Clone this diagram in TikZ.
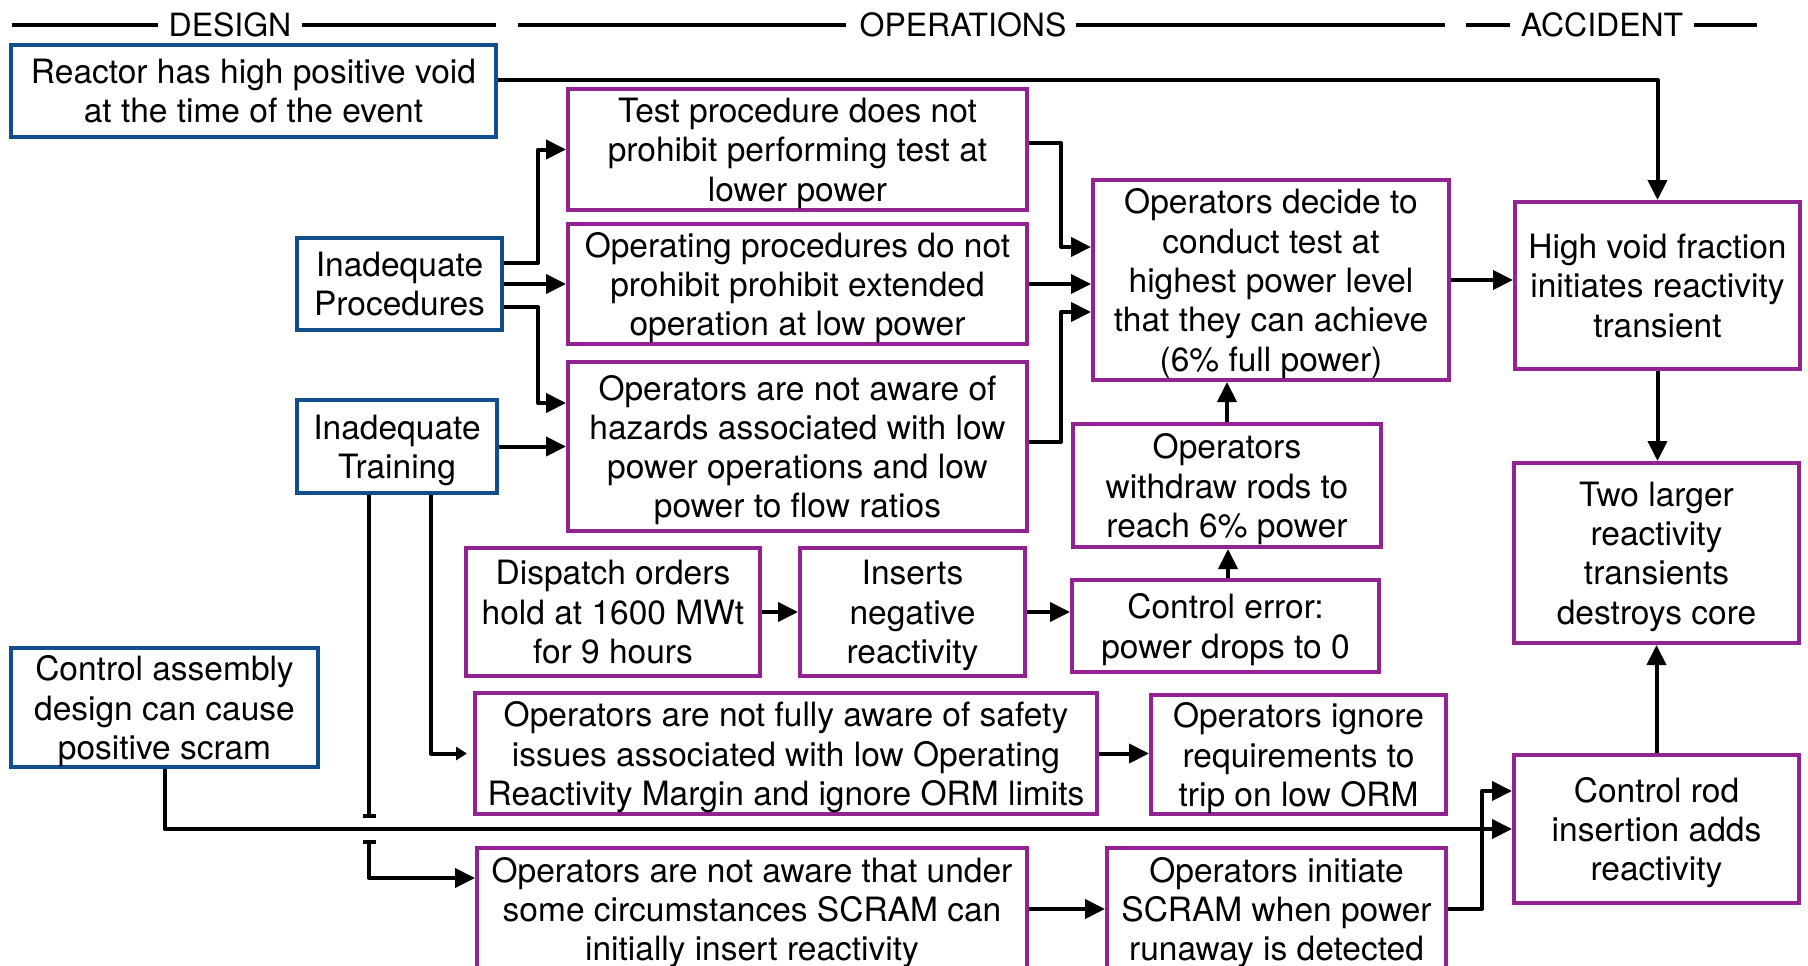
\documentclass[tikz,border=0pt]{standalone}
\usepackage{fontspec}
\setmainfont{TeX Gyre Heros}
\usetikzlibrary{arrows.meta,calc}
\definecolor{dblue}{RGB}{18,78,140}
\definecolor{dpurple}{RGB}{145,36,145}
\tikzset{
  box/.style={draw, line width=4pt, fill=white, inner sep=0pt, align=center, text depth=0pt,
    font=\fontsize{33.5}{39.3}\selectfont},
  bbox/.style={box, draw=dblue},
  pbox/.style={box, draw=dpurple},
  conn/.style={line width=4pt, line join=round},
  arr/.style={conn, -{Triangle[length=20pt,width=19pt]}},
  arrsmall/.style={conn, -{Triangle[length=11pt,width=13pt]}, shorten >=6pt},
  hdr/.style={line width=4pt},
  hdrtext/.style={font=\fontsize{32}{36}\selectfont, inner sep=0pt}
}
\begin{document}
\begin{tikzpicture}[x=1pt,y=-1pt]
\useasboundingbox (0,0) rectangle (1808,966);
\fill[white] (0,0) rectangle (1808,966);
% header
\draw[hdr] (12,25) -- (158,25);
\node[hdrtext] (hdesign) at (230,25) {DESIGN};
\draw[hdr] (302,25) -- (496,25);
\draw[hdr] (518,25) -- (846,25);
\node[hdrtext] (hops) at (963,25) {OPERATIONS};
\draw[hdr] (1076,25) -- (1445,25);
\draw[hdr] (1466,25) -- (1510,25);
\node[hdrtext] (hacc) at (1602,25) {ACCIDENT};
\draw[hdr] (1694,25) -- (1757,25);
% nodes
\node[bbox, minimum width=485pt, minimum height=92pt] (reactor) at (253.5,91) {Reactor has high positive void\\at the time of the event};
\node[pbox, minimum width=459pt, minimum height=121pt] (test) at (797.5,149.5) {Test procedure does not\\prohibit performing test at\\lower power};
\node[pbox, minimum width=459pt, minimum height=120pt] (opproc) at (797.5,284) {Operating procedures do not\\prohibit prohibit extended\\operation at low power};
\node[pbox, minimum width=459pt, minimum height=169pt] (hazards) at (797.5,446.5) {Operators are not aware of\\hazards associated with low\\power operations and low\\power to flow ratios};
\node[bbox, minimum width=205pt, minimum height=92pt] (inproc) at (399.5,284) {Inadequate\\Procedures};
\node[bbox, minimum width=200pt, minimum height=93pt] (intrain) at (397,446.5) {Inadequate\\Training};
\node[pbox, minimum width=356pt, minimum height=200pt] (decide) at (1271,280) {Operators decide to\\conduct test at\\highest power level\\that they can achieve\\(6\% full power)};
\node[pbox, minimum width=308pt, minimum height=123pt] (withdraw) at (1227,485.5) {Operators\\withdraw rods to\\reach 6\% power};
\node[pbox, minimum width=285pt, minimum height=167pt] (highvoid) at (1657.5,285.5) {High void fraction\\initiates reactivity\\transient};
\node[pbox, minimum width=285pt, minimum height=180pt] (twolarger) at (1656.5,553) {Two larger\\reactivity\\transients\\destroys core};
\node[pbox, minimum width=285pt, minimum height=148pt] (controlrod) at (1656.5,829) {Control rod\\insertion adds\\reactivity};
\node[pbox, minimum width=294pt, minimum height=128pt] (dispatch) at (613,612) {Dispatch orders\\hold at 1600 MWt\\for 9 hours};
\node[pbox, minimum width=225pt, minimum height=128pt] (inserts) at (912.5,612) {Inserts\\negative\\reactivity};
\node[pbox, minimum width=307pt, minimum height=92pt] (ctrlerr) at (1225.5,626) {Control error:\\power drops to 0};
\node[pbox, minimum width=622pt, minimum height=121pt] (notfully) at (786,753.5) {Operators are not fully aware of safety\\issues associated with low Operating\\Reactivity Margin and ignore ORM limits};
\node[pbox, minimum width=295pt, minimum height=119pt] (ignore) at (1298.5,754.5) {Operators ignore\\requirements to\\trip on low ORM};
\node[bbox, minimum width=307pt, minimum height=119pt] (ctrlassy) at (164.5,707.5) {Control assembly\\design can cause\\positive scram};
\node[pbox, minimum width=550pt, minimum height=122pt] (notaware) at (752,909) {Operators are not aware that under\\some circumstances SCRAM can\\initially insert reactivity};
\node[pbox, minimum width=339pt, minimum height=122pt] (scram) at (1276.5,909) {Operators initiate\\SCRAM when power\\runaway is detected};
% connectors
\draw[arr] ([yshift=11pt]reactor.east) -| (highvoid.north);
\draw[arr] ([yshift=21pt]inproc.east) -- ++(34,0) |- (test.west);
\draw[arr] (inproc.east) -- (opproc.west);
\draw[arr] ([yshift=-23pt]inproc.east) -- ++(34,0) |- ([yshift=43.5pt]hazards.west);
\draw[arr] (intrain.east) -- (hazards.west);
\draw[arr] ([yshift=6.5pt]test.east) -- ++(32,0) |- ([yshift=33pt]decide.west);
\draw[arr] (opproc.east) -- (opproc.east -| decide.west);
\draw[arr] ([yshift=4.5pt]hazards.east) -- ++(32,0) |- ([yshift=-32pt]decide.west);
\draw[arr] (decide.east) -- (decide.east -| highvoid.west);
\draw[arr] (withdraw.north) -- (withdraw.north |- decide.south);
\draw[arr] ([xshift=2.5pt]ctrlerr.north) -- ([xshift=2.5pt]ctrlerr.north |- withdraw.south);
\draw[arr] (dispatch.east) -- (inserts.west);
\draw[arr] (inserts.east) -- (inserts.east -| ctrlerr.west);
\draw[arr] (highvoid.south) -- (highvoid.south |- twolarger.north);
\draw[arr] (controlrod.north) -- (twolarger.south);
\draw[arrsmall] ([xshift=34pt]intrain.south) |- (notfully.west);
\coordinate (jtop) at (369,818);
\coordinate (jbot) at (369,840);
\draw[conn, -{Bar[width=13pt]}] ([xshift=-28pt]intrain.south) -- (jtop);
\draw[arr] (ctrlassy.south) |- (controlrod.west);
\draw[conn, {Bar[width=13pt]}-{Triangle[length=20pt,width=19pt]}] (jbot) |- ([yshift=31pt]notaware.west);
\draw[arr] (notfully.east) -- (notfully.east -| ignore.west);
\draw[arr] (notaware.east) -- (scram.west);
\draw[arr] (scram.east) -- ++(34,0) |- ([yshift=38pt]controlrod.west);
\end{tikzpicture}
\end{document}
